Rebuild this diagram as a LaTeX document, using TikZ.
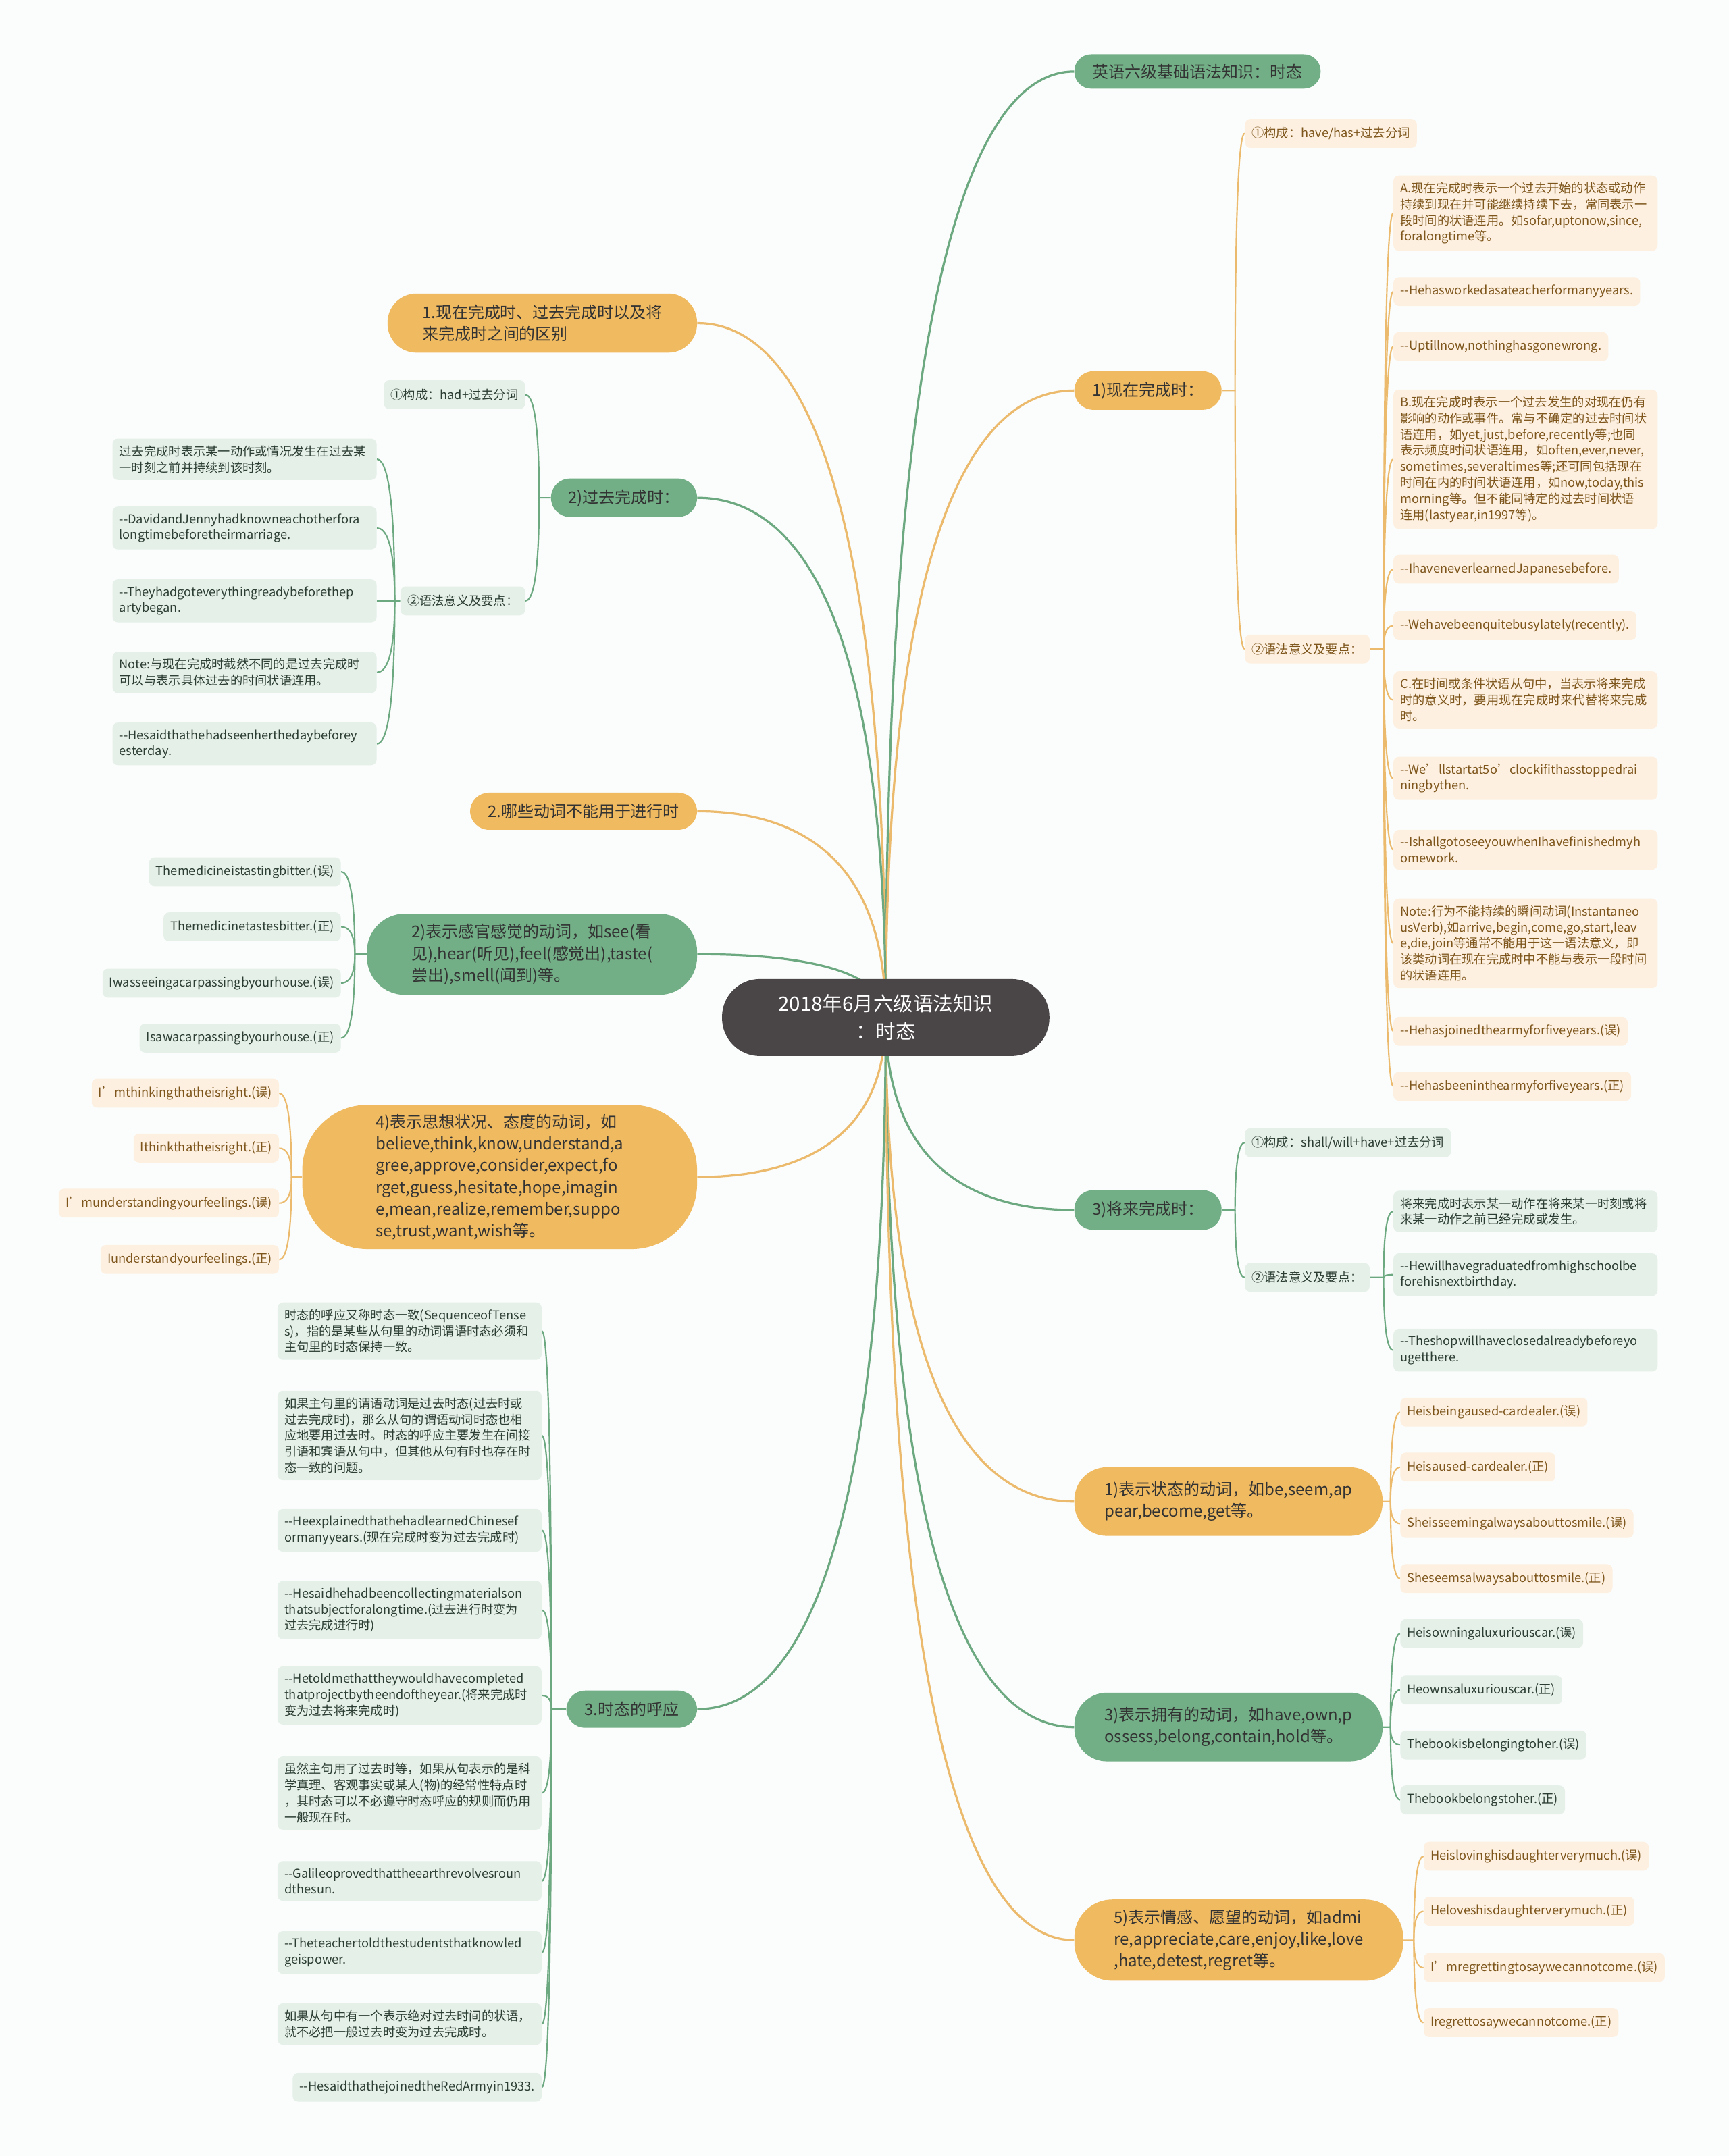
\documentclass[tikz,border=0pt]{standalone}
\usepackage{fontspec}
\setmainfont{Noto Sans CJK SC}[Ligatures=TeXOff]
\usetikzlibrary{calc, backgrounds}
\definecolor{rootgray}{RGB}{74,69,70}
\definecolor{pillorange}{RGB}{240,186,97}
\definecolor{pillgreen}{RGB}{114,175,134}
\definecolor{lineorange}{RGB}{236,186,108}
\definecolor{linegreen}{RGB}{108,168,128}
\definecolor{leaforange}{RGB}{253,240,224}
\definecolor{leafgreen}{RGB}{229,240,233}
\definecolor{textbrown}{RGB}{126,86,28}
\definecolor{textgreen}{RGB}{44,62,52}
\definecolor{pagebg}{RGB}{251,253,252}

\tikzset{
  curvy/.style={to path={.. controls ($(\tikztostart)!0.8!(\tikztostart |- \tikztotarget)$) and ($(\tikztostart |- \tikztotarget)!0.5!(\tikztotarget)$) .. (\tikztotarget)}}
}

\begin{document}
\begin{tikzpicture}[x=0.04cm, y=-0.04cm,
    root/.style={fill=rootgray, text=white, rounded corners=1.1cm, font=\fontsize{16.5pt}{23pt}\selectfont, align=center, minimum width=9.52cm, minimum height=2.24cm},
    opill/.style={fill=pillorange, text=black!80, rounded corners=0.55cm, font=\fontsize{13.4pt}{18pt}\selectfont, align=left, inner xsep=0.5cm},
    gpill/.style={fill=pillgreen, text=black!80, rounded corners=0.55cm, font=\fontsize{13.4pt}{18pt}\selectfont, align=left, inner xsep=0.5cm},
    oleaf/.style={fill=leaforange, text=textbrown, rounded corners=0.16cm, font=\fontsize{10.2pt}{13.3pt}\selectfont, align=left, inner xsep=0.2cm, inner ysep=0.2cm, minimum height=0.84cm},
    gleaf/.style={fill=leafgreen, text=textgreen, rounded corners=0.16cm, font=\fontsize{10.2pt}{13.3pt}\selectfont, align=left, inner xsep=0.2cm, inner ysep=0.2cm, minimum height=0.84cm},
    wide/.style={text width=7.28cm},
    omain/.style={draw=lineorange, line width=1.8pt},
    gmain/.style={draw=linegreen, line width=1.8pt},
    oline/.style={draw=lineorange, line width=1.2pt},
    gline/.style={draw=linegreen, line width=1.2pt}
]
\useasboundingbox (0,0) rectangle (1257,1568);

% === CENTRE ===
\node[root] (root) at (644,740) {2018年6月六级语法知识\\：时态};

% === RIGHT SIDE ===
\node[gpill, anchor=west, minimum width=7.16cm, minimum height=1cm, rounded corners=0.49cm] (r1) at (781,52) {英语六级基础语法知识：时态};

% present perfect
\node[opill, anchor=west, minimum width=4.28cm, minimum height=1.12cm] (r2) at (781,284) {1)现在完成时：};
\node[oleaf, anchor=west] (r2a) at (905,97) {①构成：have/has+过去分词};
\node[oleaf, anchor=west] (r2b) at (905,472) {②语法意义及要点：};
\node[oleaf, wide, anchor=west] (r2b1) at (1013,155) {A.现在完成时表示一个过去开始的状态或动作\\持续到现在并可能继续持续下去，常同表示一\\段时间的状语连用。如sofar,uptonow,since,\\foralongtime等。};
\node[oleaf, anchor=west] (r2b2) at (1013,212) {--Hehasworkedasateacherformanyyears.};
\node[oleaf, anchor=west] (r2b3) at (1013,252) {--Uptillnow,nothinghasgonewrong.};
\node[oleaf, wide, anchor=west] (r2b4) at (1013,334) {B.现在完成时表示一个过去发生的对现在仍有\\影响的动作或事件。常与不确定的过去时间状\\语连用，如yet,just,before,recently等;也同\\表示频度时间状语连用，如often,ever,never,\\sometimes,severaltimes等;还可同包括现在\\时间在内的时间状语连用，如now,today,this\\morning等。但不能同特定的过去时间状语\\连用(lastyear,in1997等)。};
\node[oleaf, anchor=west] (r2b5) at (1013,414) {--IhaveneverlearnedJapanesebefore.};
\node[oleaf, anchor=west] (r2b6) at (1013,455) {--Wehavebeenquitebusylately(recently).};
\node[oleaf, wide, anchor=west] (r2b7) at (1013,509) {C.在时间或条件状语从句中，当表示将来完成\\时的意义时，要用现在完成时来代替将来完成\\时。};
\node[oleaf, wide, anchor=west] (r2b8) at (1013,566) {--We’llstartat5o’clockifithasstoppedrai\\ningbythen.};
\node[oleaf, wide, anchor=west] (r2b9) at (1013,618) {--IshallgotoseeyouwhenIhavefinishedmyh\\omework.};
\node[oleaf, wide, anchor=west] (r2b10) at (1013,686) {Note:行为不能持续的瞬间动词(Instantaneo\\usVerb),如arrive,begin,come,go,start,leav\\e,die,join等通常不能用于这一语法意义，即\\该类动词在现在完成时中不能与表示一段时间\\的状语连用。};
\node[oleaf, anchor=west] (r2b11) at (1013,750) {--Hehasjoinedthearmyforfiveyears.(误)};
\node[oleaf, anchor=west] (r2b12) at (1013,790) {--Hehasbeeninthearmyforfiveyears.(正)};

% future perfect
\node[gpill, anchor=west, minimum width=4.28cm, minimum height=1.16cm] (r3) at (781,880) {3)将来完成时：};
\node[gleaf, anchor=west] (r3a) at (905,831) {①构成：shall/will+have+过去分词};
\node[gleaf, anchor=west] (r3b) at (905,929) {②语法意义及要点：};
\node[gleaf, wide, anchor=west] (r3b1) at (1013,881) {将来完成时表示某一动作在将来某一时刻或将\\来某一动作之前已经完成或发生。};
\node[gleaf, wide, anchor=west] (r3b2) at (1013,927) {--Hewillhavegraduatedfromhighschoolbe\\forehisnextbirthday.};
\node[gleaf, wide, anchor=west] (r3b3) at (1013,982) {--Theshopwillhaveclosedalreadybeforeyo\\ugetthere.};

% state verbs
\node[opill, anchor=west, minimum width=8.96cm, minimum height=2cm, rounded corners=0.95cm] (r4) at (781,1092) {1)表示状态的动词，如be,seem,ap\\pear,become,get等。};
\node[oleaf, anchor=west] (r4a) at (1018,1027) {Heisbeingaused-cardealer.(误)};
\node[oleaf, anchor=west] (r4b) at (1018,1067) {Heisaused-cardealer.(正)};
\node[oleaf, anchor=west] (r4c) at (1018,1108) {Sheisseemingalwaysabouttosmile.(误)};
\node[oleaf, anchor=west] (r4d) at (1018,1148) {Sheseemsalwaysabouttosmile.(正)};

% possession verbs
\node[gpill, anchor=west, minimum width=8.96cm, minimum height=2cm, rounded corners=0.95cm] (r5) at (781,1256) {3)表示拥有的动词，如have,own,p\\ossess,belong,contain,hold等。};
\node[gleaf, anchor=west] (r5a) at (1018,1188) {Heisowningaluxuriouscar.(误)};
\node[gleaf, anchor=west] (r5b) at (1018,1229) {Heownsaluxuriouscar.(正)};
\node[gleaf, anchor=west] (r5c) at (1018,1269) {Thebookisbelongingtoher.(误)};
\node[gleaf, anchor=west] (r5d) at (1018,1309) {Thebookbelongstoher.(正)};

% feeling verbs
\node[opill, anchor=west, minimum width=9.56cm, minimum height=2.36cm, rounded corners=1.1cm] (r6) at (781,1411) {5)表示情感、愿望的动词，如admi\\re,appreciate,care,enjoy,like,love\\,hate,detest,regret等。};
\node[oleaf, anchor=west] (r6a) at (1035,1350) {Heislovinghisdaughterverymuch.(误)};
\node[oleaf, anchor=west] (r6b) at (1035,1390) {Heloveshisdaughterverymuch.(正)};
\node[oleaf, anchor=west] (r6c) at (1035,1431) {I’mregrettingtosaywecannotcome.(误)};
\node[oleaf, anchor=west] (r6d) at (1035,1471) {Iregrettosaywecannotcome.(正)};

% === LEFT SIDE ===
\node[opill, anchor=east, minimum width=9cm, minimum height=1.72cm, rounded corners=0.84cm] (l1) at (507,235) {1.现在完成时、过去完成时以及将\\来完成时之间的区别};

% past perfect
\node[gpill, anchor=east, minimum width=3.8cm, minimum height=1.12cm] (l2) at (507,362) {2)过去完成时：};
\node[gleaf, anchor=east] (l2a) at (382,287) {①构成：had+过去分词};
\node[gleaf, anchor=east] (l2b) at (382,437) {②语法意义及要点：};
\node[gleaf, wide, anchor=east] (l2b1) at (274,334) {过去完成时表示某一动作或情况发生在过去某\\一时刻之前并持续到该时刻。};
\node[gleaf, wide, anchor=east] (l2b2) at (274,384) {--DavidandJennyhadknowneachotherfora\\longtimebeforetheirmarriage.};
\node[gleaf, wide, anchor=east] (l2b3) at (274,437) {--Theyhadgoteverythingreadybeforethep\\artybegan.};
\node[gleaf, wide, anchor=east] (l2b4) at (274,489) {Note:与现在完成时截然不同的是过去完成时\\可以与表示具体过去的时间状语连用。};
\node[gleaf, wide, anchor=east] (l2b5) at (274,541) {--Hesaidthathehadseenherthedaybeforey\\esterday.};

\node[opill, anchor=east, minimum width=6.6cm, minimum height=1.08cm] (l3) at (507,590) {2.哪些动词不能用于进行时};

% sense verbs
\node[gpill, anchor=east, minimum width=9.6cm, minimum height=2.36cm, rounded corners=1.1cm] (l4) at (507,694) {2)表示感官感觉的动词，如see(看\\见),hear(听见),feel(感觉出),taste(\\尝出),smell(闻到)等。};
\node[gleaf, anchor=east] (l4a) at (248,634) {Themedicineistastingbitter.(误)};
\node[gleaf, anchor=east] (l4b) at (248,674) {Themedicinetastesbitter.(正)};
\node[gleaf, anchor=east] (l4c) at (248,715) {Iwasseeingacarpassingbyourhouse.(误)};
\node[gleaf, anchor=east] (l4d) at (248,755) {Isawacarpassingbyourhouse.(正)};

% thinking verbs
\node[opill, anchor=east, minimum width=11.48cm, minimum height=4.2cm, rounded corners=1.9cm] (l5) at (507,856) {4)表示思想状况、态度的动词，如\\believe,think,know,understand,a\\gree,approve,consider,expect,fo\\rget,guess,hesitate,hope,imagin\\e,mean,realize,remember,suppo\\se,trust,want,wish等。};
\node[oleaf, anchor=east] (l5a) at (203,795) {I’mthinkingthatheisright.(误)};
\node[oleaf, anchor=east] (l5b) at (203,835) {Ithinkthatheisright.(正)};
\node[oleaf, anchor=east] (l5c) at (203,875) {I’munderstandingyourfeelings.(误)};
\node[oleaf, anchor=east] (l5d) at (203,916) {Iunderstandyourfeelings.(正)};

% sequence of tenses
\node[gpill, anchor=east, minimum width=3.8cm, minimum height=1.08cm] (l6) at (507,1243) {3.时态的呼应};
\node[gleaf, wide, anchor=east] (l6a) at (394,968) {时态的呼应又称时态一致(SequenceofTense\\s)，指的是某些从句里的动词谓语时态必须和\\主句里的时态保持一致。};
\node[gleaf, wide, anchor=east] (l6b) at (394,1044) {如果主句里的谓语动词是过去时态(过去时或\\过去完成时)，那么从句的谓语动词时态也相\\应地要用过去时。时态的呼应主要发生在间接\\引语和宾语从句中，但其他从句有时也存在时\\态一致的问题。};
\node[gleaf, wide, anchor=east] (l6c) at (394,1113) {--HeexplainedthathehadlearnedChinesef\\ormanyyears.(现在完成时变为过去完成时)};
\node[gleaf, wide, anchor=east] (l6d) at (394,1171) {--Hesaidhehadbeencollectingmaterialson\\thatsubjectforalongtime.(过去进行时变为\\过去完成进行时)};
\node[gleaf, wide, anchor=east] (l6e) at (394,1233) {--Hetoldmethattheywouldhavecompleted\\thatprojectbytheendoftheyear.(将来完成时\\变为过去将来完成时)};
\node[gleaf, wide, anchor=east] (l6f) at (394,1304) {虽然主句用了过去时等，如果从句表示的是科\\学真理、客观事实或某人(物)的经常性特点时\\，其时态可以不必遵守时态呼应的规则而仍用\\一般现在时。};
\node[gleaf, wide, anchor=east] (l6g) at (394,1368) {--Galileoprovedthattheearthrevolvesroun\\dthesun.};
\node[gleaf, wide, anchor=east] (l6h) at (394,1420) {--Theteachertoldthestudentsthatknowled\\geispower.};
\node[gleaf, wide, anchor=east] (l6i) at (394,1472) {如果从句中有一个表示绝对过去时间的状语，\\就不必把一般过去时变为过去完成时。};
\node[gleaf, anchor=east] (l6j) at (394,1518) {--HesaidthathejoinedtheRedArmyin1933.};

% branch points
\coordinate (r2s) at (898,284);
\coordinate (r2bs) at (1006,472);
\coordinate (r3s) at (898,880);
\coordinate (r3bs) at (1006,929);
\coordinate (r4s) at (1011,1092);
\coordinate (r5s) at (1011,1256);
\coordinate (r6s) at (1028,1411);
\coordinate (l2s) at (392,362);
\coordinate (l2bs) at (287,437);
\coordinate (l4s) at (258,694);
\coordinate (l5s) at (212,856);
\coordinate (l6s) at (401,1243);

\begin{scope}[on background layer]
\fill[pagebg] (0,0) rectangle (1257,1568);

% centre to main branches
\draw[gmain] (root.center) to[curvy] (r1.west);
\draw[omain] (root.center) to[curvy] (r2.west);
\draw[gmain] (root.center) to[curvy] (r3.west);
\draw[omain] (root.center) to[curvy] (r4.west);
\draw[gmain] (root.center) to[curvy] (r5.west);
\draw[omain] (root.center) to[curvy] (r6.west);
\draw[omain] (root.center) to[curvy] (l1.east);
\draw[gmain] (root.center) to[curvy] (l2.east);
\draw[omain] (root.center) to[curvy] (l3.east);
\draw[gmain] (root.center) to[curvy] (l4.east);
\draw[omain] (root.center) to[curvy] (l5.east);
\draw[gmain] (root.center) to[curvy] (l6.east);

% present perfect
\draw[oline] (r2.east) -- (r2s) to[curvy] (r2a.west);
\draw[oline] (r2s) to[curvy] (r2b.west);
\draw[oline] (r2b.east) -- (r2bs) to[curvy] (r2b1.west);
\draw[oline] (r2bs) to[curvy] (r2b2.west);
\draw[oline] (r2bs) to[curvy] (r2b3.west);
\draw[oline] (r2bs) to[curvy] (r2b4.west);
\draw[oline] (r2bs) to[curvy] (r2b5.west);
\draw[oline] (r2bs) to[curvy] (r2b6.west);
\draw[oline] (r2bs) to[curvy] (r2b7.west);
\draw[oline] (r2bs) to[curvy] (r2b8.west);
\draw[oline] (r2bs) to[curvy] (r2b9.west);
\draw[oline] (r2bs) to[curvy] (r2b10.west);
\draw[oline] (r2bs) to[curvy] (r2b11.west);
\draw[oline] (r2bs) to[curvy] (r2b12.west);

% future perfect
\draw[gline] (r3.east) -- (r3s) to[curvy] (r3a.west);
\draw[gline] (r3s) to[curvy] (r3b.west);
\draw[gline] (r3b.east) -- (r3bs) to[curvy] (r3b1.west);
\draw[gline] (r3bs) to[curvy] (r3b2.west);
\draw[gline] (r3bs) to[curvy] (r3b3.west);

% state, possession, feeling verbs
\draw[oline] (r4.east) -- (r4s) to[curvy] (r4a.west);
\draw[oline] (r4s) to[curvy] (r4b.west);
\draw[oline] (r4s) to[curvy] (r4c.west);
\draw[oline] (r4s) to[curvy] (r4d.west);
\draw[gline] (r5.east) -- (r5s) to[curvy] (r5a.west);
\draw[gline] (r5s) to[curvy] (r5b.west);
\draw[gline] (r5s) to[curvy] (r5c.west);
\draw[gline] (r5s) to[curvy] (r5d.west);
\draw[oline] (r6.east) -- (r6s) to[curvy] (r6a.west);
\draw[oline] (r6s) to[curvy] (r6b.west);
\draw[oline] (r6s) to[curvy] (r6c.west);
\draw[oline] (r6s) to[curvy] (r6d.west);

% past perfect
\draw[gline] (l2.west) -- (l2s) to[curvy] (l2a.east);
\draw[gline] (l2s) to[curvy] (l2b.east);
\draw[gline] (l2b.west) -- (l2bs) to[curvy] (l2b1.east);
\draw[gline] (l2bs) to[curvy] (l2b2.east);
\draw[gline] (l2bs) to[curvy] (l2b3.east);
\draw[gline] (l2bs) to[curvy] (l2b4.east);
\draw[gline] (l2bs) to[curvy] (l2b5.east);

% sense and thinking verbs
\draw[gline] (l4.west) -- (l4s) to[curvy] (l4a.east);
\draw[gline] (l4s) to[curvy] (l4b.east);
\draw[gline] (l4s) to[curvy] (l4c.east);
\draw[gline] (l4s) to[curvy] (l4d.east);
\draw[oline] (l5.west) -- (l5s) to[curvy] (l5a.east);
\draw[oline] (l5s) to[curvy] (l5b.east);
\draw[oline] (l5s) to[curvy] (l5c.east);
\draw[oline] (l5s) to[curvy] (l5d.east);

% sequence of tenses
\draw[gline] (l6.west) -- (l6s) to[curvy] (l6a.east);
\draw[gline] (l6s) to[curvy] (l6b.east);
\draw[gline] (l6s) to[curvy] (l6c.east);
\draw[gline] (l6s) to[curvy] (l6d.east);
\draw[gline] (l6s) to[curvy] (l6e.east);
\draw[gline] (l6s) to[curvy] (l6f.east);
\draw[gline] (l6s) to[curvy] (l6g.east);
\draw[gline] (l6s) to[curvy] (l6h.east);
\draw[gline] (l6s) to[curvy] (l6i.east);
\draw[gline] (l6s) to[curvy] (l6j.east);
\end{scope}

\end{tikzpicture}
\end{document}
